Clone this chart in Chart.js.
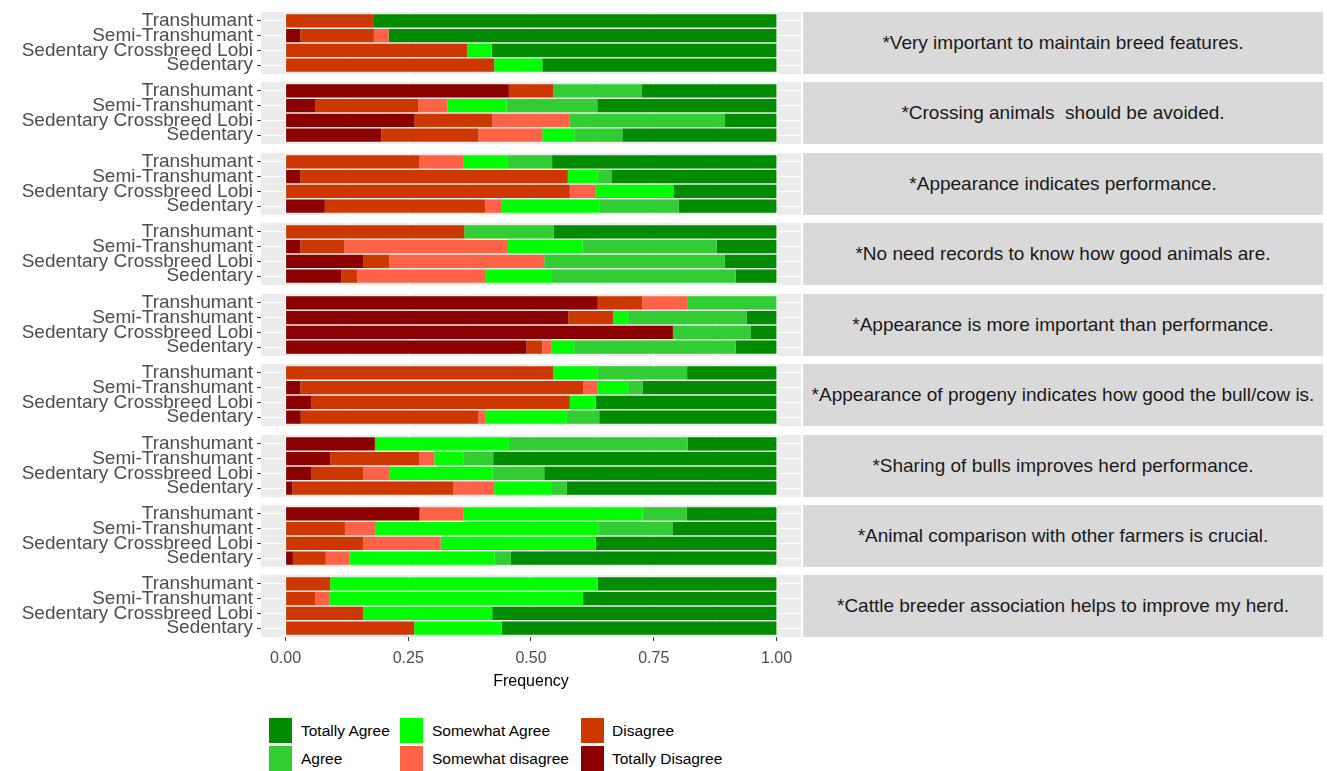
<!DOCTYPE html>
<html><head><meta charset="utf-8">
<script src="https://cdn.jsdelivr.net/npm/chart.js@4"></script>
<style>
body{margin:0;width:1327px;height:771px;background:#fff;position:relative;overflow:hidden;font-family:"Liberation Sans",Arial,sans-serif;}
canvas.pc{position:absolute;left:0;}
.strip{position:absolute;left:803px;width:520px;height:62px;background:#D9D9D9;display:flex;align-items:center;justify-content:center;color:#1A1A1A;font-size:19px;white-space:pre;}
.lk{position:absolute;width:23px;height:25px;}
.lt{position:absolute;font-size:15.5px;color:#000;line-height:25px;white-space:pre;}
</style></head><body>
<script>
// ---- data ----
const groups = ['Transhumant','Semi-Transhumant','Sedentary Crossbreed Lobi','Sedentary'];
const responses = ['Totally Disagree','Disagree','Somewhat disagree','Somewhat Agree','Agree','Totally Agree'];
const responseColors = ['#8B0000','#CD3700','#FF6347','#00FF00','#32CD32','#008B00'];
const statements = [
  '*Very important to maintain breed features.',
  '*Crossing animals  should be avoided.',
  '*Appearance indicates performance.',
  '*No need records to know how good animals are.',
  '*Appearance is more important than performance.',
  '*Appearance of progeny indicates how good the bull/cow is.',
  '*Sharing of bulls improves herd performance.',
  '*Animal comparison with other farmers is crucial.',
  '*Cattle breeder association helps to improve my herd.'
];
// rows = groups, columns = responses (TD, D, SD, SA, A, TA)
const s1BreedFeatures = [[0,0.18,0,0,0,0.82],[0.03,0.15,0.03,0,0,0.79],[0,0.37,0,0.05,0,0.58],[0,0.425,0,0.098,0,0.477]];
const s2Crossing = [[0.455,0.09,0,0,0.18,0.275],[0.06,0.21,0.06,0.12,0.185,0.365],[0.263,0.158,0.158,0,0.316,0.105],[0.195,0.198,0.13,0.065,0.098,0.314]];
const s3AppearancePerf = [[0,0.273,0.09,0.09,0.09,0.457],[0.03,0.545,0,0.06,0.03,0.335],[0,0.579,0.053,0.158,0,0.21],[0.08,0.327,0.032,0.2,0.162,0.199]];
const s4Records = [[0,0.364,0,0,0.182,0.454],[0.03,0.09,0.333,0.152,0.273,0.122],[0.158,0.053,0.316,0,0.368,0.105],[0.114,0.032,0.262,0.133,0.376,0.083]];
const s5AppMoreImportant = [[0.636,0.091,0.091,0,0.182,0],[0.576,0.091,0,0.03,0.242,0.061],[0.789,0,0,0,0.158,0.053],[0.491,0.032,0.018,0.047,0.329,0.083]];
const s6Progeny = [[0,0.545,0,0.091,0.182,0.182],[0.03,0.576,0.03,0.061,0.03,0.273],[0.053,0.526,0,0.053,0,0.368],[0.031,0.362,0.015,0.165,0.066,0.361]];
const s7SharingBulls = [[0.182,0,0,0.273,0.364,0.181],[0.091,0.182,0.03,0.06,0.06,0.577],[0.053,0.105,0.053,0.211,0.105,0.473],[0.014,0.328,0.083,0.116,0.032,0.427]];
const s8Comparison = [[0.273,0,0.09,0.364,0.09,0.183],[0,0.121,0.061,0.455,0.151,0.212],[0,0.158,0.158,0.316,0,0.368],[0.015,0.067,0.048,0.296,0.033,0.541]];
const s9Association = [[0,0.091,0,0.545,0,0.364],[0,0.06,0.03,0.516,0,0.394],[0,0.158,0,0.263,0,0.579],[0,0.262,0,0.178,0,0.56]];
const panelData = [s1BreedFeatures,s2Crossing,s3AppearancePerf,s4Records,s5AppMoreImportant,s6Progeny,s7SharingBulls,s8Comparison,s9Association];
const xTickValues = [0,0.125,0.25,0.375,0.5,0.625,0.75,0.875,1];
const legendOrder = ['Totally Agree','Agree','Somewhat Agree','Somewhat disagree','Disagree','Totally Disagree'];

// ---- layout ----
const PANEL_LEFT = 261, PANEL_RIGHT = 801, PANEL_H = 62, PAD = 18;
const X_MIN = -0.05, X_MAX = 1.05, Y_MIN = -0.6, Y_MAX = 3.6;
const isMajor = v => Math.abs(v*4 - Math.round(v*4)) < 1e-9;
const bgPlugin = {
  id:'panelBg',
  beforeDraw(chart){
    const a = chart.chartArea, c = chart.ctx;
    c.save(); c.fillStyle = '#EBEBEB'; c.fillRect(a.left, a.top, a.right-a.left, a.bottom-a.top); c.restore();
  }
};
Chart.defaults.font.family = '"Liberation Sans", Arial, sans-serif';

panelData.forEach((rows, pi) => {
  const top = Math.round(11.8 + pi*70.46);
  const last = pi === panelData.length-1;
  const bottomArea = last ? 60 : 0;
  const cv = document.createElement('canvas');
  cv.className = 'pc';
  cv.width = 803; cv.height = PAD + PANEL_H + (last ? bottomArea : PAD);
  cv.style.top = (top - PAD) + 'px';
  cv.style.width = cv.width + 'px'; cv.style.height = cv.height + 'px';
  document.body.appendChild(cv);

  const strip = document.createElement('div');
  strip.className = 'strip'; strip.style.top = top + 'px'; strip.textContent = statements[pi];
  document.body.appendChild(strip);

  const datasets = responses.map((r, ri) => ({
    label: r,
    data: groups.map((g, gi) => ({x: rows[gi][ri], y: gi})),
    backgroundColor: responseColors[ri],
    borderWidth: 0,
    categoryPercentage: 1,
    barPercentage: 0.9
  }));

  new Chart(cv, {
    type: 'bar',
    data: {datasets},
    plugins: [bgPlugin],
    options: {
      indexAxis: 'y',
      responsive: false,
      animation: false,
      devicePixelRatio: 1,
      layout: {padding: {top: PAD, bottom: last ? 0 : PAD, left: 0, right: 803 - PANEL_RIGHT}},
      plugins: {legend: {display: false}, tooltip: {enabled: false}},
      scales: {
        x: {
          type: 'linear', stacked: true, min: X_MIN, max: X_MAX, offset: false, bounds: 'data',
          afterBuildTicks: s => { s.ticks = xTickValues.map(v => ({value: v})); s.min = X_MIN; s.max = X_MAX; },
          afterFit: s => { s.height = bottomArea; },
          border: {display: false},
          grid: {
            color: '#FFFFFF', offset: false,
            lineWidth: c => (c.tick && isMajor(c.tick.value)) ? 1.1 : 0.55,
            drawTicks: last, tickLength: 4,
            tickColor: c => (c.tick && isMajor(c.tick.value)) ? '#333333' : 'rgba(0,0,0,0)',
            tickWidth: 1
          },
          ticks: {
            display: last, autoSkip: false, maxRotation: 0, padding: 8,
            color: '#4D4D4D', font: {size: 16},
            callback: v => isMajor(v) ? v.toFixed(2) : ''
          },
          title: {display: last, text: 'Frequency', color: '#000000', font: {size: 16}, padding: {top: 0, bottom: 6}}
        },
        y: {
          type: 'linear', stacked: true, min: Y_MIN, max: Y_MAX, reverse: true, offset: false, bounds: 'data',
          afterBuildTicks: s => { s.ticks = groups.map((g, i) => ({value: i})); s.min = Y_MIN; s.max = Y_MAX; },
          afterFit: s => { s.width = PANEL_LEFT; },
          border: {display: false},
          grid: {color: '#FFFFFF', offset: false, lineWidth: 1.1, drawTicks: true, tickLength: 4, tickColor: '#333333', tickWidth: 1},
          ticks: {autoSkip: false, padding: 4, color: '#4D4D4D', font: {size: 19}, callback: v => groups[v]}
        }
      }
    }
  });
});

// ---- legend ----
const legX = [269, 400, 581], legTextX = [301, 432, 612], legY = [718, 746];
legendOrder.forEach((name, k) => {
  const col = Math.floor(k/2), row = k%2;
  const ri = responses.indexOf(name);
  const key = document.createElement('div');
  key.className = 'lk'; key.style.left = legX[col]+'px'; key.style.top = legY[row]+'px';
  key.style.background = responseColors[ri];
  document.body.appendChild(key);
  const t = document.createElement('div');
  t.className = 'lt'; t.style.left = legTextX[col]+'px'; t.style.top = legY[row]+'px';
  t.textContent = name;
  document.body.appendChild(t);
});
</script>
</body></html>
